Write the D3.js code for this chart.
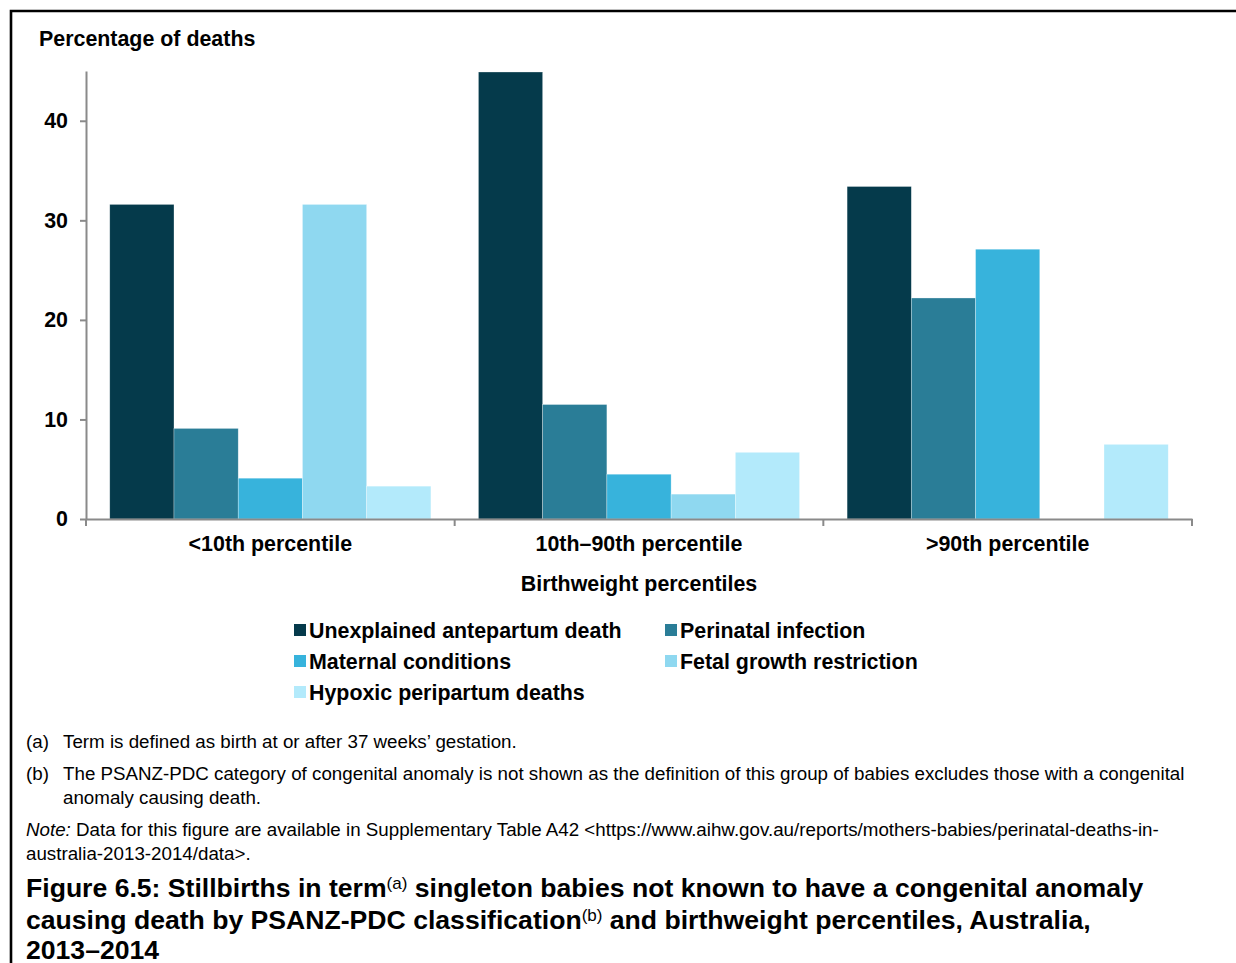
<!DOCTYPE html>
<html>
<head>
<meta charset="utf-8">
<script src="https://cdn.jsdelivr.net/npm/d3@7"></script>
<style>
  html, body { margin: 0; padding: 0; background: #fff; }
  svg { display: block; font-family: "Liberation Sans", Arial, sans-serif; }
</style>
</head>
<body>
<svg id="chart" width="1236" height="963"></svg>
<script>
const categories = ["<10th percentile", "10th\u201390th percentile", ">90th percentile"];
const seriesNames = ["Unexplained antepartum death", "Perinatal infection", "Maternal conditions", "Fetal growth restriction", "Hypoxic peripartum deaths"];
const unexplained = [31.6, 44.9, 33.4];
const perinatal   = [9.1, 11.5, 22.2];
const maternal    = [4.1, 4.5, 27.1];
const fetal       = [31.6, 2.5, 0];
const hypoxic     = [3.3, 6.7, 7.5];
const yTicks = [0, 10, 20, 30, 40];
const colors = ["#053A4B", "#2A7D97", "#37B3DC", "#8FD8F0", "#B3EAFB"];

const seriesValues = [unexplained, perinatal, maternal, fetal, hypoxic];

const svg = d3.select("#chart");
const FS = 21.4;

// frame
svg.append("path").attr("d", "M11,963 V11 H1236").attr("fill", "none").attr("stroke", "#000").attr("stroke-width", 2.6);

const x0 = d3.scaleBand().domain(categories).range([86, 1192]).paddingInner(0).paddingOuter(0);
const x1 = d3.scaleBand().domain(seriesNames).range([0, x0.bandwidth()]).paddingInner(0).paddingOuter(0.37);
const y = d3.scaleLinear().domain([0, 45]).range([519, 71]);

const axisColor = "#8a8a8a";

// bars
categories.forEach((c, ci) => {
  const g = svg.append("g").attr("transform", `translate(${x0(c)},0)`);
  seriesNames.forEach((s, si) => {
    const v = seriesValues[si][ci];
    if (v <= 0) return;
    g.append("rect")
      .attr("x", x1(s))
      .attr("y", y(v))
      .attr("width", x1.bandwidth())
      .attr("height", y(0) - y(v))
      .attr("fill", colors[si])
      .attr("stroke", "#ffffff")
      .attr("stroke-opacity", 0.5)
      .attr("stroke-width", 0.6);
  });
});

// y axis
const yAxis = svg.append("g").attr("transform", "translate(86,0)")
  .call(d3.axisLeft(y).tickValues(yTicks).tickSize(6).tickSizeOuter(0).tickPadding(12));
yAxis.select(".domain").attr("stroke", axisColor).attr("stroke-width", 2);
yAxis.selectAll(".tick line").attr("stroke", axisColor).attr("stroke-width", 2);
yAxis.selectAll(".tick text").attr("font-size", FS).attr("font-weight", "bold").attr("fill", "#000")
  .attr("font-family", "Liberation Sans, Arial, sans-serif");

// x axis
const xAxis = svg.append("g").attr("transform", "translate(0,519)")
  .call(d3.axisBottom(x0).tickSize(0).tickSizeOuter(0).tickPadding(17));
xAxis.select(".domain").attr("stroke", axisColor).attr("stroke-width", 2);
xAxis.selectAll(".tick text").attr("font-size", FS).attr("font-weight", "bold").attr("fill", "#000")
  .attr("font-family", "Liberation Sans, Arial, sans-serif");
const bounds = categories.map(c => x0(c)).concat([x0(categories[categories.length - 1]) + x0.bandwidth()]);
svg.append("g").selectAll("line").data(bounds).join("line")
  .attr("x1", d => d).attr("x2", d => d).attr("y1", 519).attr("y2", 526)
  .attr("stroke", axisColor).attr("stroke-width", 2);

// axis titles
svg.append("text").attr("x", 39).attr("y", 46).attr("font-size", FS).attr("font-weight", "bold")
  .text("Percentage of deaths");
svg.append("text").attr("x", 639).attr("y", 590.5).attr("text-anchor", "middle").attr("font-size", FS).attr("font-weight", "bold")
  .text("Birthweight percentiles");

// legend
const legendPos = [[294, 630], [665, 630], [294, 661], [665, 661], [294, 692]];
seriesNames.forEach((s, i) => {
  const [lx, ly] = legendPos[i];
  svg.append("rect").attr("x", lx).attr("y", ly - 6).attr("width", 12).attr("height", 12).attr("fill", colors[i]);
  svg.append("text").attr("x", lx + 15).attr("y", ly + 7.5).attr("font-size", FS).attr("font-weight", "bold").text(s);
});

// footnotes
const fn = svg.append("g").attr("font-size", 18.75).attr("fill", "#000");
fn.append("text").attr("x", 26).attr("y", 748).text("(a)");
fn.append("text").attr("x", 63).attr("y", 748).text("Term is defined as birth at or after 37 weeks\u2019 gestation.");
fn.append("text").attr("x", 26).attr("y", 780).text("(b)");
fn.append("text").attr("x", 63).attr("y", 780).text("The PSANZ-PDC category of congenital anomaly is not shown as the definition of this group of babies excludes those with a congenital");
fn.append("text").attr("x", 63).attr("y", 804).text("anomaly causing death.");
const note = fn.append("text").attr("x", 26).attr("y", 836);
note.append("tspan").attr("font-style", "italic").text("Note:");
note.append("tspan").text(" Data for this figure are available in Supplementary Table A42 <https://www.aihw.gov.au/reports/mothers-babies/perinatal-deaths-in-");
fn.append("text").attr("x", 26).attr("y", 860).text("australia-2013-2014/data>.");

// title
const tg = svg.append("g").attr("font-size", 26.6).attr("font-weight", "bold");
const t1 = tg.append("text").attr("x", 26).attr("y", 897);
t1.append("tspan").text("Figure 6.5: Stillbirths in term");
t1.append("tspan").attr("font-size", 17).attr("font-weight", "normal").attr("dy", -8).text("(a)");
t1.append("tspan").attr("dy", 8).text(" singleton babies not known to have a congenital anomaly");
const t2 = tg.append("text").attr("x", 26).attr("y", 929);
t2.append("tspan").text("causing death by PSANZ-PDC classification");
t2.append("tspan").attr("font-size", 17).attr("font-weight", "normal").attr("dy", -8).text("(b)");
t2.append("tspan").attr("dy", 8).text(" and birthweight percentiles, Australia,");
tg.append("text").attr("x", 26).attr("y", 959).text("2013\u20132014");
</script>
</body>
</html>
